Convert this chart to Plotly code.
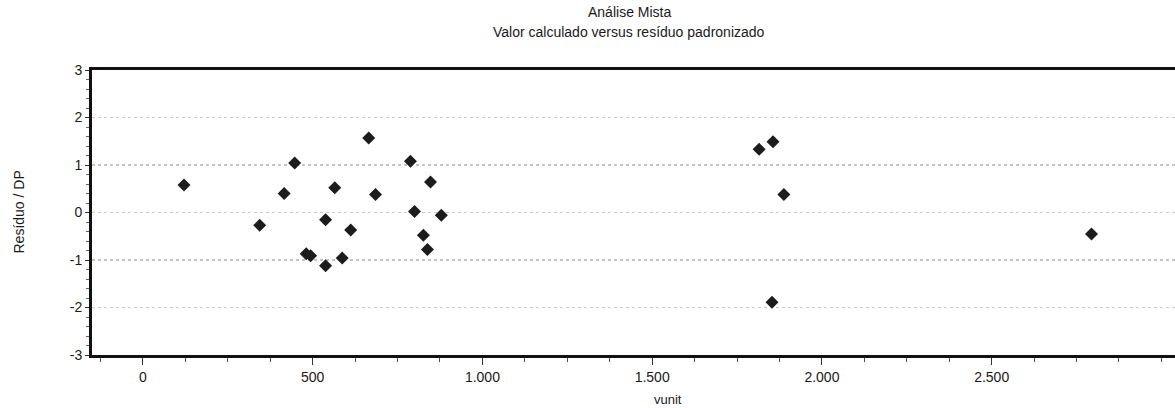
import plotly.graph_objects as go

# Data (calculated value vs standardized residual)
vunit = [121, 344, 416, 447, 481, 494, 538, 538, 565, 587, 612, 665, 685,
         788, 800, 826, 838, 847, 879, 1815, 1856, 1888, 1853, 2794]
residuo = [0.58, -0.27, 0.40, 1.04, -0.87, -0.91, -0.15, -1.12, 0.52, -0.96,
           -0.37, 1.57, 0.38, 1.08, 0.02, -0.48, -0.78, 0.64, -0.06,
           1.33, 1.49, 0.38, -1.89, -0.45]

y_ticks = [-3, -2, -1, 0, 1, 2, 3]
y_ticklabels = ["-3", "-2", "-1", "0", "1", "2", "3"]
x_ticks = [0, 500, 1000, 1500, 2000, 2500]
x_ticklabels = ["0", "500", "1.000", "1.500", "2.000", "2.500"]
grid_dark = [-1, 1]
grid_light = [-2, 0, 2]

title_lines = ["Análise Mista", "Valor calculado versus resíduo padronizado"]
x_title = "vunit"
y_title = "Resíduo / DP"

FONT = "Liberation Sans, Arial, sans-serif"
W, H = 1175, 408
ML, MT, MB = 92, 70, 53
PW, PH = W - ML, H - MT - MB


def py2paper(py):
    return 1 + (MT - py) / PH


fig = go.Figure()
fig.add_trace(go.Scatter(
    x=vunit, y=residuo, mode="markers",
    marker=dict(symbol="diamond", size=10, color="#1c1c1c",
                line=dict(width=0)),
    showlegend=False, hoverinfo="x+y",
))

for g in grid_light:
    fig.add_shape(type="line", xref="paper", x0=0, x1=1, yref="y", y0=g, y1=g,
                  line=dict(color="#cacadc", width=1, dash="dot"), layer="below")
for g in grid_dark:
    fig.add_shape(type="line", xref="paper", x0=0, x1=1, yref="y", y0=g, y1=g,
                  line=dict(color="#8a8a8a", width=1, dash="dot"), layer="below")

fig.update_layout(
    width=W, height=H,
    margin=dict(l=ML, r=0, t=MT, b=MB, pad=0),
    paper_bgcolor="white", plot_bgcolor="white",
    font=dict(family=FONT, size=14, color="#1a1a1a"),
)

fig.update_xaxes(
    range=[-150, 3040], showgrid=False, zeroline=False,
    showline=True, linecolor="#111", linewidth=2.5, mirror=True,
    tickvals=x_ticks, ticktext=x_ticklabels,
    ticks="outside", ticklen=7, tickwidth=1, tickcolor="#333",
    minor=dict(dtick=125, tick0=0, ticks="outside", ticklen=4, tickcolor="#555"),
    tickfont=dict(family=FONT, size=14, color="#1a1a1a"),
)
fig.update_yaxes(
    range=[-3, 3], showgrid=False, zeroline=False,
    showline=True, linecolor="#111", linewidth=3, mirror=False,
    tickvals=y_ticks, ticktext=y_ticklabels,
    ticks="outside", ticklen=4, tickwidth=1, tickcolor="#333",
    minor=dict(dtick=0.2, ticks="outside", ticklen=3, tickcolor="#666"),
    tickfont=dict(family=FONT, size=14, color="#1a1a1a"),
)

for line, py in zip(title_lines, [12, 32]):
    fig.add_annotation(text=line, xref="paper", yref="paper",
                       x=(629 - ML) / PW, y=py2paper(py),
                       xanchor="center", yanchor="middle", showarrow=False,
                       font=dict(family=FONT, size=14, color="#1a1a1a"))

fig.add_annotation(text=x_title, xref="paper", yref="paper",
                   x=(668 - ML) / PW, y=py2paper(399),
                   xanchor="center", yanchor="middle", showarrow=False,
                   font=dict(family=FONT, size=13, color="#1a1a1a"))
fig.add_annotation(text=y_title, xref="paper", yref="paper",
                   x=(18 - ML) / PW, y=0.5, textangle=-90,
                   xanchor="center", yanchor="middle", showarrow=False,
                   font=dict(family=FONT, size=14, color="#1a1a1a"))

fig.write_html(
    "out.html",
    config={"displayModeBar": False},
    post_script="document.body.style.margin='0';document.body.style.overflow='hidden';",
)
